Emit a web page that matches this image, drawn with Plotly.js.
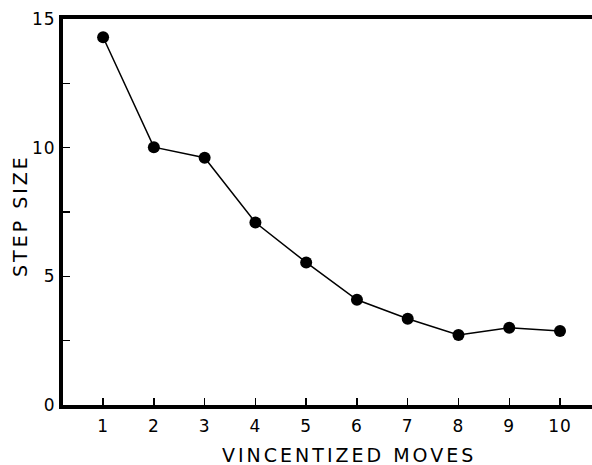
<!DOCTYPE html>
<html>
<head>
<meta charset="utf-8">
<script src="https://cdn.plot.ly/plotly-3.0.1.min.js"></script>
<style>
html,body{margin:0;padding:0;background:#fff;}
#chart{width:592px;height:465px;}
.annotation-text{letter-spacing:3px;}
.xtick text,.ytick text{letter-spacing:1px;}
</style>
</head>
<body>
<div id="chart"></div>
<script>
var moves = [1, 2, 3, 4, 5, 6, 7, 8, 9, 10];
var stepSize = [14.29, 10.02, 9.61, 7.09, 5.54, 4.09, 3.35, 2.72, 3.0, 2.88];
var yTicks = [0, 5, 10, 15];
var yMinorTicks = [2.5, 7.5, 12.5];
var xTitle = 'VINCENTIZED MOVES';
var yTitle = 'STEP SIZE';

var trace = {
  x: moves,
  y: stepSize,
  type: 'scatter',
  mode: 'lines+markers',
  line: {color: '#000', width: 1.5},
  marker: {color: '#000', size: 12},
  hoverinfo: 'none',
  showlegend: false
};

var fam = 'DejaVu Sans, sans-serif';

var layout = {
  width: 592,
  height: 465,
  margin: {l: 63, r: 0, t: 19, b: 60},
  paper_bgcolor: '#fff',
  plot_bgcolor: '#fff',
  font: {family: fam, color: '#000'},
  xaxis: {
    range: [0.21, 10.63],
    tickvals: moves,
    ticktext: moves.map(String),
    ticks: 'inside',
    ticklen: 7,
    tickwidth: 1.5,
    tickcolor: '#000',
    ticklabelstandoff: 3,
    showline: true,
    linewidth: 4,
    linecolor: '#000',
    mirror: true,
    showgrid: false,
    zeroline: false,
    tickfont: {family: fam, size: 17, color: '#000'}
  },
  yaxis: {
    range: [0, 15],
    tickvals: yTicks,
    ticktext: yTicks.map(String),
    ticks: 'inside',
    ticklen: 7,
    tickwidth: 1.5,
    tickcolor: '#000',
    minor: {tickvals: yMinorTicks, ticks: 'inside', ticklen: 7, tickwidth: 1.5, tickcolor: '#000', showgrid: false},
    showline: true,
    linewidth: 4,
    linecolor: '#000',
    mirror: false,
    showgrid: false,
    zeroline: false,
    tickfont: {family: fam, size: 17, color: '#000'}
  },
  annotations: [
    {text: xTitle, xref: 'paper', yref: 'paper', x: 0.54, y: -0.1295, xanchor: 'center', yanchor: 'middle',
     showarrow: false, font: {family: fam, size: 19, color: '#000'}},
    {text: yTitle, xref: 'paper', yref: 'paper', x: -0.081, y: 0.49, xanchor: 'center', yanchor: 'middle',
     textangle: -90, showarrow: false, font: {family: fam, size: 19, color: '#000'}}
  ]
};

Plotly.newPlot('chart', [trace], layout, {displayModeBar: false, staticPlot: true});
</script>
</body>
</html>
